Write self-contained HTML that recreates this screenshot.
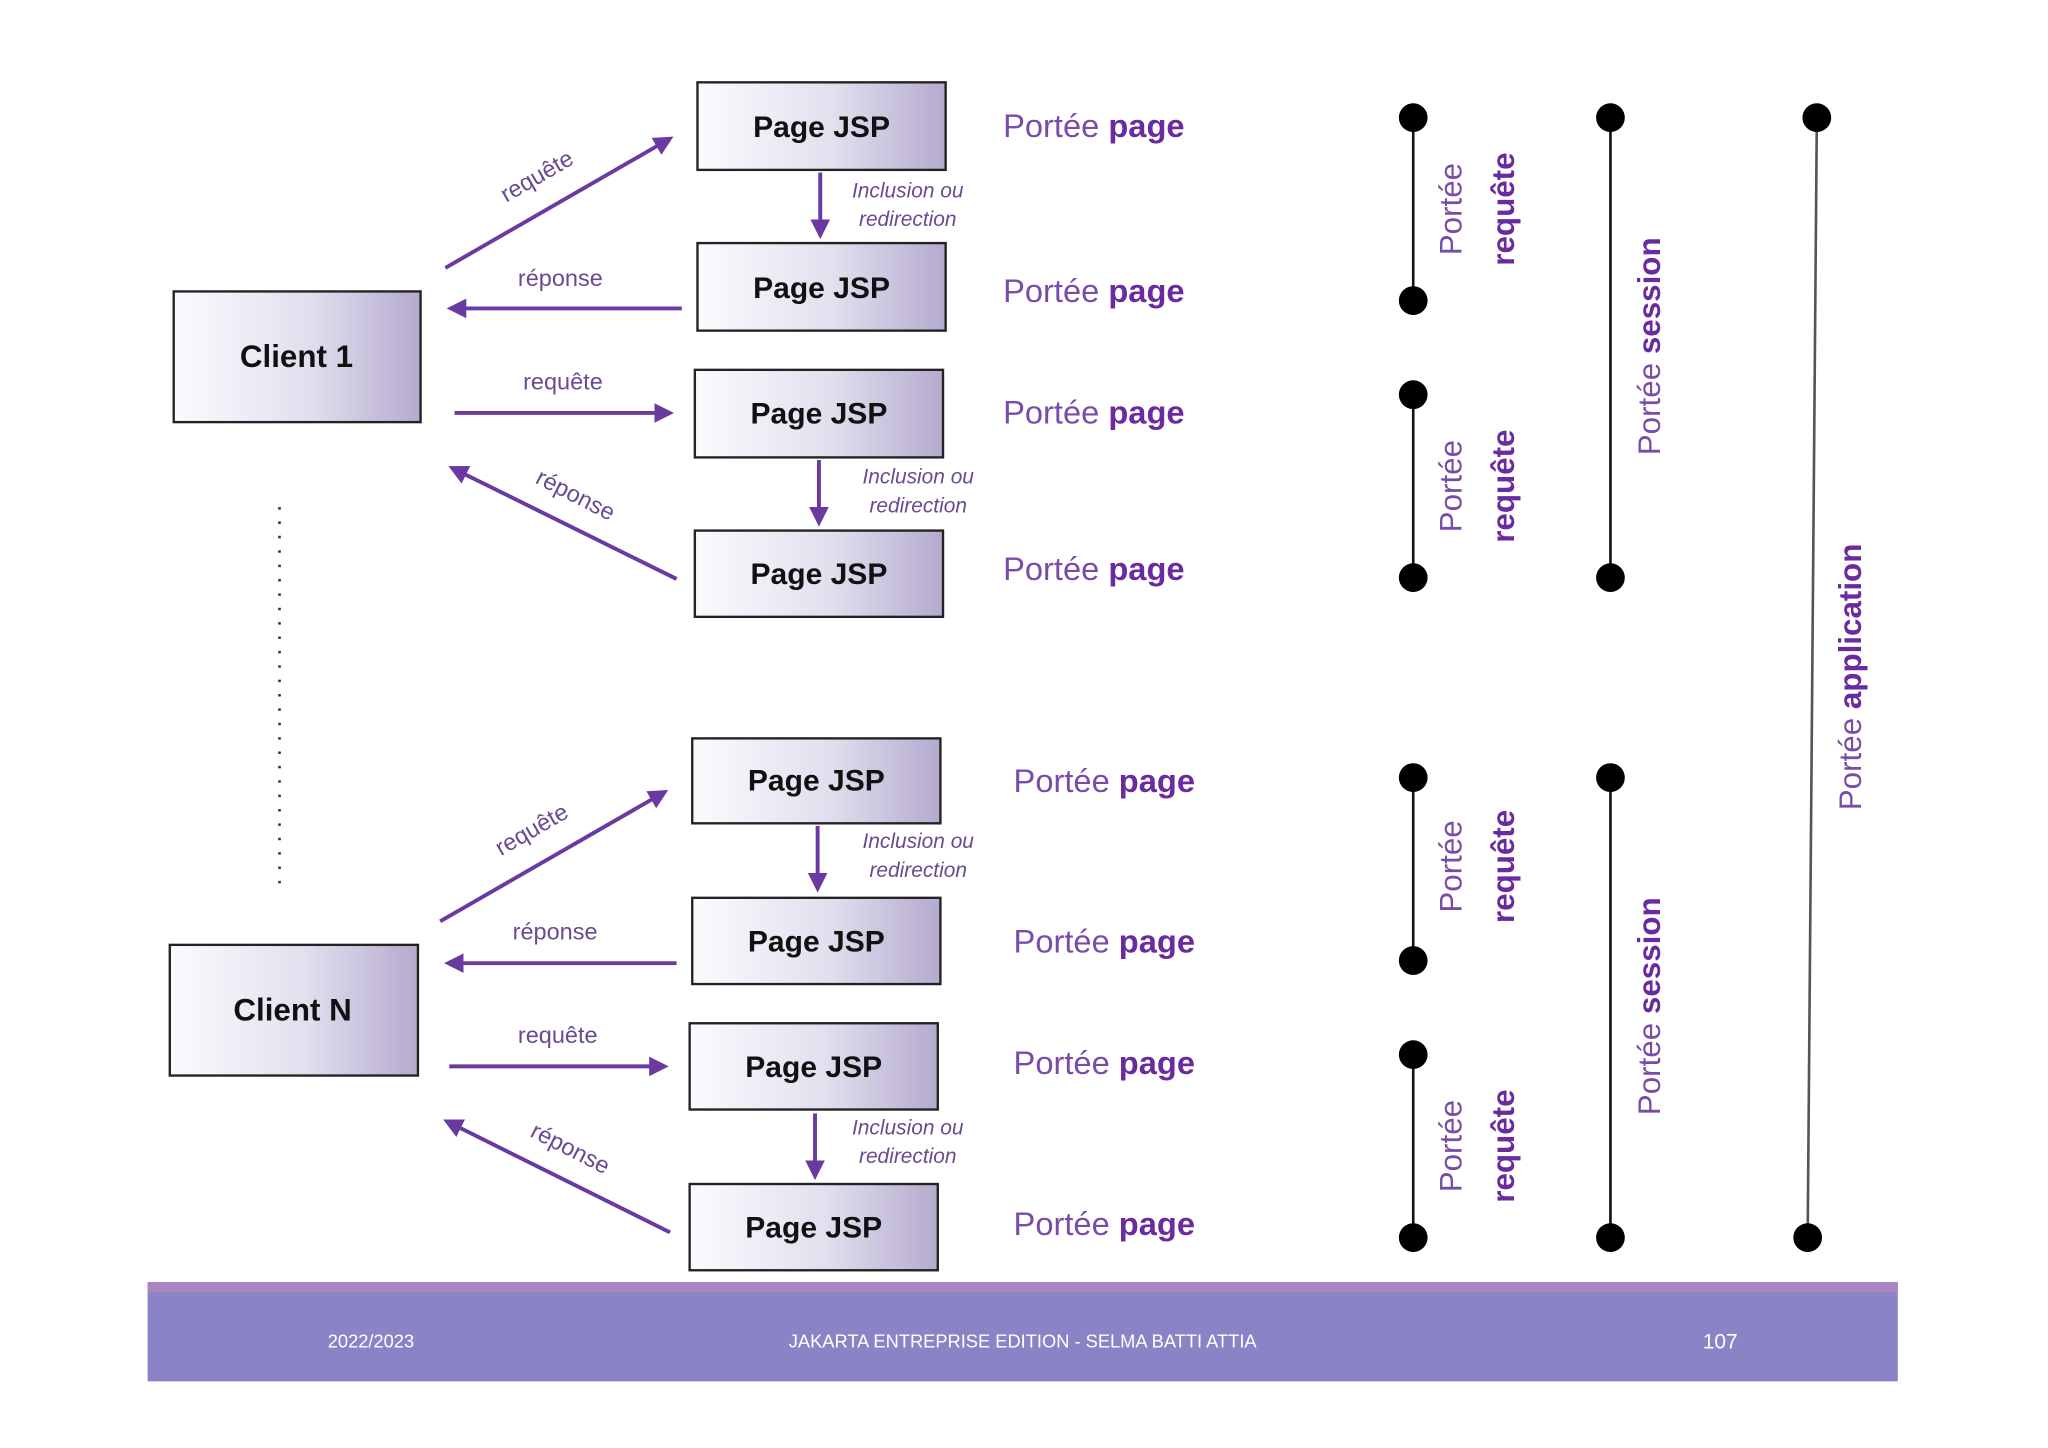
<!DOCTYPE html>
<html><head><meta charset="utf-8"><style>
html,body{margin:0;padding:0;background:#fff;width:2048px;height:1448px;overflow:hidden}
svg{display:block}
text{font-family:"Liberation Sans",sans-serif}
.pj{font-size:23px;font-weight:bold;fill:#111;text-anchor:middle}
.pp{font-size:25px;fill:#7a4ca8}
.pp tspan{font-weight:bold;fill:#6a2aa0}
.al{font-size:18px;fill:#6a4a90;text-anchor:middle}
.inc{font-size:16px;font-style:italic;fill:#6a4a90;text-anchor:middle}
.rv{font-size:24px;fill:#7a4ca8;text-anchor:middle}
.rvb{font-size:24px;fill:#6a2aa0;font-weight:bold;text-anchor:middle}
.ar{stroke:#6a3aa0;stroke-width:3;fill:none}
.ft{font-size:14px;fill:#fff;text-anchor:middle}
</style></head><body>
<svg width="2048" height="1448" viewBox="0 0 1568 1108" preserveAspectRatio="none" xmlns="http://www.w3.org/2000/svg">
<defs>
<linearGradient id="g" x1="0" x2="1" y1="0" y2="0"><stop offset="0" stop-color="#fbfbfe"/><stop offset="0.55" stop-color="#e2dfee"/><stop offset="1" stop-color="#b4aace"/></linearGradient>
<marker id="m" viewBox="0 0 10 10" refX="8" refY="5" markerWidth="5" markerHeight="5" orient="auto-start-reverse"><path d="M0,0 L10,5 L0,10 z" fill="#6a3aa0"/></marker>
</defs>
<!-- clients -->
<g stroke="#222" stroke-width="1.8" fill="url(#g)">
<rect x="133" y="223" width="189" height="100"/>
<rect x="130" y="723" width="190" height="100"/>
<rect x="534" y="63" width="190" height="67"/>
<rect x="534" y="186" width="190" height="67"/>
<rect x="532" y="283" width="190" height="67"/>
<rect x="532" y="406" width="190" height="66"/>
<rect x="530" y="565" width="190" height="65"/>
<rect x="530" y="687" width="190" height="66"/>
<rect x="528" y="783" width="190" height="66"/>
<rect x="528" y="906" width="190" height="66"/>
</g>
<text x="227" y="281" class="pj" style="font-size:24px">Client 1</text>
<text x="224" y="781" class="pj" style="font-size:24px">Client N</text>
<text x="629" y="105" class="pj">Page JSP</text>
<text x="629" y="228" class="pj">Page JSP</text>
<text x="627" y="324" class="pj">Page JSP</text>
<text x="627" y="447" class="pj">Page JSP</text>
<text x="625" y="605" class="pj">Page JSP</text>
<text x="625" y="728" class="pj">Page JSP</text>
<text x="623" y="824" class="pj">Page JSP</text>
<text x="623" y="947" class="pj">Page JSP</text>
<!-- portée page -->
<text x="768" y="105" class="pp">Portée <tspan>page</tspan></text>
<text x="768" y="231" class="pp">Portée <tspan>page</tspan></text>
<text x="768" y="324" class="pp">Portée <tspan>page</tspan></text>
<text x="768" y="444" class="pp">Portée <tspan>page</tspan></text>
<text x="776" y="606" class="pp">Portée <tspan>page</tspan></text>
<text x="776" y="729" class="pp">Portée <tspan>page</tspan></text>
<text x="776" y="822" class="pp">Portée <tspan>page</tspan></text>
<text x="776" y="945" class="pp">Portée <tspan>page</tspan></text>
<!-- arrows top -->
<g class="ar">
<line x1="341" y1="205" x2="513" y2="106" marker-end="url(#m)"/>
<line x1="522" y1="236" x2="345" y2="236" marker-end="url(#m)"/>
<line x1="348" y1="316" x2="513" y2="316" marker-end="url(#m)"/>
<line x1="518" y1="443" x2="346" y2="358" marker-end="url(#m)"/>
<line x1="628" y1="132" x2="628" y2="180" marker-end="url(#m)"/>
<line x1="627" y1="352" x2="627" y2="400" marker-end="url(#m)"/>
<line x1="337" y1="705" x2="509" y2="606" marker-end="url(#m)"/>
<line x1="518" y1="737" x2="343" y2="737" marker-end="url(#m)"/>
<line x1="344" y1="816" x2="509" y2="816" marker-end="url(#m)"/>
<line x1="513" y1="943" x2="342" y2="858" marker-end="url(#m)"/>
<line x1="626" y1="632" x2="626" y2="680" marker-end="url(#m)"/>
<line x1="624" y1="852" x2="624" y2="900" marker-end="url(#m)"/>
</g>
<text class="al" transform="translate(414,140) rotate(-30)">requête</text>
<text x="429" y="219" class="al">réponse</text>
<text x="431" y="298" class="al">requête</text>
<text class="al" transform="translate(438,384) rotate(27)">réponse</text>
<text class="al" transform="translate(410,640) rotate(-30)">requête</text>
<text x="425" y="719" class="al">réponse</text>
<text x="427" y="798" class="al">requête</text>
<text class="al" transform="translate(434,884) rotate(27)">réponse</text>
<text x="695" y="151" class="inc">Inclusion ou</text>
<text x="695" y="173" class="inc">redirection</text>
<text x="703" y="370" class="inc">Inclusion ou</text>
<text x="703" y="392" class="inc">redirection</text>
<text x="703" y="649" class="inc">Inclusion ou</text>
<text x="703" y="671" class="inc">redirection</text>
<text x="695" y="868" class="inc">Inclusion ou</text>
<text x="695" y="890" class="inc">redirection</text>
<!-- dotted line -->
<line x1="214" y1="388" x2="214" y2="685" stroke="#333" stroke-width="2" stroke-dasharray="2,9"/>
<!-- scope lines -->
<g stroke="#111" stroke-width="2">
<line x1="1082" y1="90" x2="1082" y2="230"/>
<line x1="1082" y1="302" x2="1082" y2="442"/>
<line x1="1082" y1="595" x2="1082" y2="735"/>
<line x1="1082" y1="807" x2="1082" y2="947"/>
<line x1="1233" y1="90" x2="1233" y2="442"/>
<line x1="1233" y1="595" x2="1233" y2="947"/>
<line x1="1391" y1="90" x2="1384" y2="947" stroke="#555"/>
</g>
<g fill="#000">
<ellipse cx="1082" cy="90" rx="11" ry="11"/><ellipse cx="1082" cy="230" rx="11" ry="11"/>
<ellipse cx="1082" cy="302" rx="11" ry="11"/><ellipse cx="1082" cy="442" rx="11" ry="11"/>
<ellipse cx="1082" cy="595" rx="11" ry="11"/><ellipse cx="1082" cy="735" rx="11" ry="11"/>
<ellipse cx="1082" cy="807" rx="11" ry="11"/><ellipse cx="1082" cy="947" rx="11" ry="11"/>
<ellipse cx="1233" cy="90" rx="11" ry="11"/><ellipse cx="1233" cy="442" rx="11" ry="11"/>
<ellipse cx="1233" cy="595" rx="11" ry="11"/><ellipse cx="1233" cy="947" rx="11" ry="11"/>
<ellipse cx="1391" cy="90" rx="11" ry="11"/><ellipse cx="1384" cy="947" rx="11" ry="11"/>
</g>
<text class="rv" transform="translate(1119,160) rotate(-90)">Portée</text>
<text class="rvb" transform="translate(1159,160) rotate(-90)">requête</text>
<text class="rv" transform="translate(1119,372) rotate(-90)">Portée</text>
<text class="rvb" transform="translate(1159,372) rotate(-90)">requête</text>
<text class="rv" transform="translate(1119,663) rotate(-90)">Portée</text>
<text class="rvb" transform="translate(1159,663) rotate(-90)">requête</text>
<text class="rv" transform="translate(1119,877) rotate(-90)">Portée</text>
<text class="rvb" transform="translate(1159,877) rotate(-90)">requête</text>
<text class="rv" transform="translate(1271,265) rotate(-90)">Portée <tspan font-weight="bold" fill="#6a2aa0">session</tspan></text>
<text class="rv" transform="translate(1271,770) rotate(-90)">Portée <tspan font-weight="bold" fill="#6a2aa0">session</tspan></text>
<text class="rv" transform="translate(1425,518) rotate(-90)">Portée <tspan font-weight="bold" fill="#6a2aa0">application</tspan></text>
<!-- footer -->
<rect x="113" y="981" width="1340" height="76" fill="#8a84c7"/>
<rect x="113" y="981" width="1340" height="8" fill="#a985c2"/>
<text x="284" y="1031" class="ft">2022/2023</text>
<text x="783" y="1031" class="ft">JAKARTA ENTREPRISE EDITION - SELMA BATTI ATTIA</text>
<text x="1317" y="1032" class="ft" style="font-size:16px">107</text>
</svg>
</body></html>
